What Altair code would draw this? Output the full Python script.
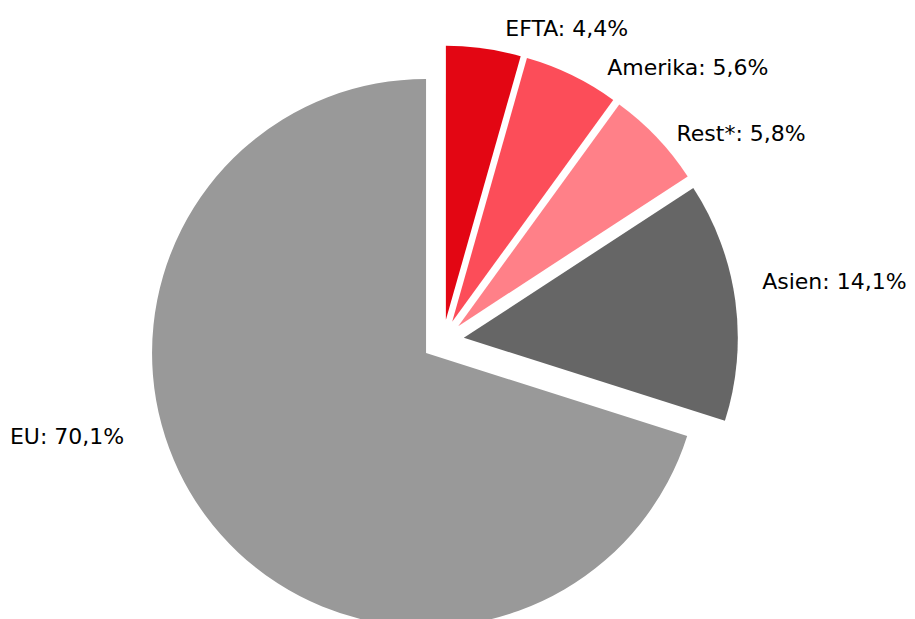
import math
import altair as alt
import pandas as pd

# ---- data (clockwise from 12 o'clock) ----
categories = ["EFTA", "Amerika", "Rest*", "Asien", "EU"]
values = [4.4, 5.6, 5.8, 14.1, 70.1]
labels = ["EFTA: 4,4%", "Amerika: 5,6%", "Rest*: 5,8%", "Asien: 14,1%", "EU: 70,1%"]
colors = ["#E30613", "#FC4D59", "#FF8088", "#666666", "#999999"]

# ---- layout / style ----
W, H = 899, 611
CX, CY = 435.0, 332.6      # pie centre (view px)
R = 274                     # radius
EXPLODE = 21                # slice explosion distance
LABEL_GAP = 12
# manual label nudges (like Excel's hand-placed labels)
label_dx = [20, 30, 11, 15, -71]
label_dy = [-1, 11, 12, -10, -78]
FONT = "DejaVu Sans"

df = pd.DataFrame({
    "cat": categories,
    "value": values,
    "label": labels,
    "order": list(range(len(categories))),
    "ndx": label_dx,
    "ndy": label_dy,
})

base = (
    alt.Chart(df)
    .transform_joinaggregate(total="sum(value)")
    .transform_window(cum="sum(value)", sort=[alt.SortField("order")], frame=[None, 0])
    .transform_calculate(
        f0="(datum.cum - datum.value) / datum.total",
        f1="datum.cum / datum.total",
    )
    .transform_calculate(mid="(datum.f0 + datum.f1) * PI")
    .transform_calculate(
        ox=f"{CX} + {EXPLODE} * sin(datum.mid)",
        oy=f"{CY} - {EXPLODE} * cos(datum.mid)",
    )
    .transform_calculate(
        lx=f"datum.ox + {R + LABEL_GAP} * sin(datum.mid) + datum.ndx",
        ly=f"datum.oy - {R + LABEL_GAP} * cos(datum.mid) + datum.ndy",
    )
)

arcs = base.mark_arc(radius=R).encode(
    theta=alt.Theta("f0:Q", scale=alt.Scale(domain=[0, 1], range=[0, 2 * math.pi]), stack=None),
    theta2="f1:Q",
    x=alt.X("ox:Q", scale=None),
    y=alt.Y("oy:Q", scale=None),
    color=alt.Color("cat:N", scale=alt.Scale(domain=categories, range=colors), legend=None),
)

txt_right = base.transform_filter("datum.mid < PI").mark_text(
    align="left", baseline="alphabetic", font=FONT, fontSize=22, color="#000000"
).encode(
    x=alt.X("lx:Q", scale=None),
    y=alt.Y("ly:Q", scale=None),
    text="label:N",
)

txt_left = base.transform_filter("datum.mid >= PI").mark_text(
    align="right", baseline="alphabetic", font=FONT, fontSize=22, color="#000000"
).encode(
    x=alt.X("lx:Q", scale=None),
    y=alt.Y("ly:Q", scale=None),
    text="label:N",
)

chart = (
    alt.layer(arcs, txt_right, txt_left)
    .properties(width=W, height=H, autosize=alt.AutoSizeParams(type="none"), padding=0)
    .configure_view(stroke=None)
)

chart.save("out.html", embed_options={"renderer": "svg", "actions": False})
